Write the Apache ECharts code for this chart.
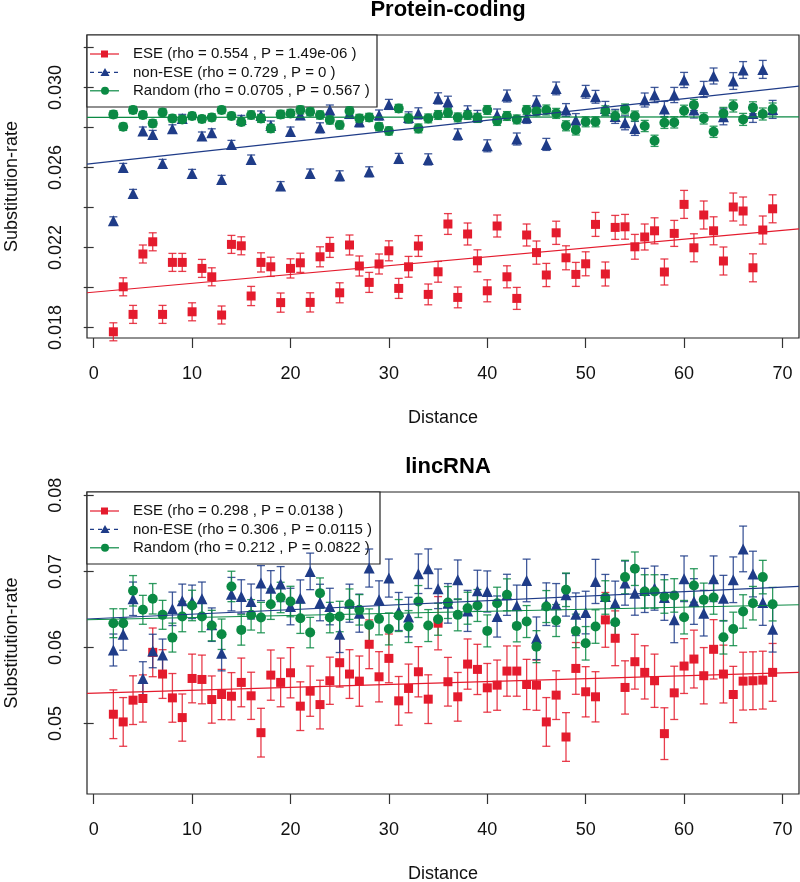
<!DOCTYPE html>
<html>
<head>
<meta charset="utf-8">
<script src="https://cdn.jsdelivr.net/npm/echarts@6/dist/echarts.min.js"></script>
<style>html,body{margin:0;padding:0;background:#fff}#c{width:800px;height:882px}</style>
</head>
<body>
<div id="c"></div>
<script>
// ---------- data ----------
const distance = [2,3,4,5,6,7,8,9,10,11,12,13,14,15,16,17,18,19,20,21,22,23,24,25,26,27,28,29,30,31,32,33,34,35,36,37,38,39,40,41,42,43,44,45,46,47,48,49,50,51,52,53,54,55,56,57,58,59,60,61,62,63,64,65,66,67,68,69];

// Protein-coding
const pcEse = [0.01778,0.02003,0.01865,0.02167,0.02228,0.01865,0.02125,0.02125,0.01878,0.02095,0.02053,0.01862,0.02215,0.02208,0.01957,0.02125,0.02103,0.01924,0.02095,0.02123,0.01925,0.02153,0.02200,0.01973,0.02212,0.02107,0.02025,0.02117,0.02183,0.01995,0.02103,0.02207,0.01965,0.02078,0.02317,0.01950,0.02267,0.02133,0.01983,0.02307,0.02053,0.01945,0.02262,0.02174,0.02062,0.02273,0.02148,0.02065,0.02118,0.02315,0.02067,0.02300,0.02303,0.02203,0.02252,0.02283,0.02077,0.02270,0.02415,0.02198,0.02362,0.02283,0.02132,0.02402,0.02382,0.02098,0.02287,0.02393];
const pcEseErr = [0.00045,0.00045,0.00045,0.00045,0.00045,0.00045,0.00045,0.00045,0.00045,0.00045,0.00045,0.00045,0.00045,0.00045,0.00048,0.00048,0.00048,0.00048,0.00048,0.00048,0.00048,0.0005,0.0005,0.0005,0.0005,0.0005,0.0005,0.0005,0.0005,0.0005,0.00052,0.00052,0.00052,0.00052,0.00052,0.00052,0.00055,0.00055,0.00055,0.00055,0.00055,0.00055,0.00055,0.00058,0.00058,0.00058,0.0006,0.0006,0.0006,0.0006,0.0006,0.0006,0.00062,0.00062,0.00065,0.00065,0.00065,0.00065,0.0007,0.0007,0.0007,0.0007,0.0007,0.0007,0.0007,0.0007,0.0007,0.0007];
const pcNon = [0.02333,0.02600,0.02470,0.02782,0.02765,0.02620,0.02793,0.02845,0.02570,0.02757,0.02773,0.02540,0.02715,0.02840,0.02640,0.02860,0.02810,0.02507,0.02780,0.02862,0.02570,0.02798,0.02887,0.02558,0.02870,0.02828,0.02578,0.02862,0.02915,0.02645,0.02850,0.02870,0.02640,0.02945,0.02928,0.02765,0.02878,0.02855,0.02708,0.02862,0.02957,0.02742,0.02850,0.02928,0.02715,0.02995,0.02887,0.02837,0.02978,0.02953,0.02895,0.02855,0.02823,0.02795,0.02937,0.02962,0.02892,0.02962,0.03037,0.02887,0.02990,0.03057,0.02853,0.03032,0.03087,0.02870,0.03090,0.02890];
const pcNonErr = [0.0002,0.0002,0.0002,0.0002,0.0002,0.0002,0.0002,0.0002,0.0002,0.0002,0.0002,0.0002,0.0002,0.0002,0.00022,0.00022,0.00022,0.00022,0.00022,0.00022,0.00022,0.00025,0.00025,0.00025,0.00025,0.00025,0.00025,0.00025,0.00025,0.00025,0.00028,0.00028,0.00028,0.00028,0.00028,0.00028,0.0003,0.0003,0.0003,0.0003,0.0003,0.0003,0.0003,0.0003,0.0003,0.00032,0.00032,0.00032,0.00032,0.00032,0.00035,0.00035,0.00035,0.00035,0.00035,0.00038,0.00038,0.00038,0.00038,0.0004,0.0004,0.0004,0.0004,0.00042,0.00042,0.00045,0.00045,0.00045];
const pcRnd = [0.02865,0.02803,0.02887,0.02862,0.02820,0.02875,0.02845,0.02840,0.02857,0.02842,0.02850,0.02887,0.02857,0.02827,0.02862,0.02845,0.02795,0.02865,0.02870,0.02887,0.02878,0.02862,0.02837,0.02812,0.02882,0.02845,0.02850,0.02803,0.02782,0.02895,0.02845,0.02795,0.02845,0.02862,0.02873,0.02850,0.02862,0.02848,0.02887,0.02832,0.02857,0.02840,0.02887,0.02880,0.02887,0.02870,0.02808,0.02787,0.02828,0.02828,0.02883,0.02857,0.02892,0.02857,0.02807,0.02733,0.02823,0.02825,0.02883,0.02912,0.02845,0.02778,0.02870,0.02907,0.02840,0.02898,0.02867,0.02892];
const pcRndErr = [0.00018,0.00018,0.00018,0.00018,0.00018,0.00018,0.00018,0.00018,0.00018,0.00018,0.00018,0.00018,0.00018,0.00018,0.0002,0.0002,0.0002,0.0002,0.0002,0.0002,0.0002,0.0002,0.0002,0.0002,0.0002,0.0002,0.0002,0.0002,0.0002,0.0002,0.00022,0.00022,0.00022,0.00022,0.00022,0.00022,0.00022,0.00022,0.00022,0.00022,0.00022,0.00022,0.00022,0.00022,0.00025,0.00025,0.00025,0.00025,0.00025,0.00025,0.00025,0.00025,0.00025,0.00025,0.00028,0.00028,0.00028,0.00028,0.00028,0.00028,0.00028,0.00028,0.0003,0.0003,0.0003,0.0003,0.0003,0.0003];
const pcFitIntercept = [0.01976, 0.02620, 0.02850];
const pcFitSlope = [0.0000442, 0.0000539, 0.0000004];

// lincRNA
const lnEse = [0.05123,0.05022,0.05308,0.05330,0.05936,0.05651,0.05338,0.05079,0.05593,0.05580,0.05316,0.05382,0.05360,0.05541,0.05365,0.04881,0.05637,0.05541,0.05668,0.05229,0.05426,0.05250,0.05563,0.05800,0.05651,0.05558,0.06042,0.05615,0.05857,0.05299,0.05462,0.05681,0.05321,0.06319,0.05550,0.05352,0.05782,0.05712,0.05470,0.05505,0.05690,0.05690,0.05514,0.05505,0.05022,0.05374,0.04824,0.05725,0.05418,0.05352,0.06363,0.06121,0.05475,0.05813,0.05673,0.05563,0.04868,0.05404,0.05756,0.05848,0.05629,0.05976,0.05651,0.05382,0.05558,0.05563,0.05571,0.05673];
const lnEseErr = [0.0032,0.0032,0.0032,0.0031,0.0032,0.0032,0.0032,0.0031,0.0032,0.0032,0.0031,0.0033,0.0031,0.0032,0.0031,0.0032,0.0033,0.0032,0.0033,0.0032,0.0033,0.0032,0.0031,0.0032,0.0032,0.0033,0.0032,0.0033,0.0032,0.0032,0.0032,0.0033,0.0032,0.0035,0.0032,0.0032,0.0033,0.0033,0.0032,0.0033,0.0033,0.0033,0.0033,0.0033,0.0032,0.0032,0.0032,0.0034,0.0033,0.0033,0.0036,0.0036,0.0035,0.0036,0.0035,0.0035,0.0034,0.0035,0.0036,0.0038,0.0037,0.0039,0.0038,0.0037,0.0038,0.0038,0.0038,0.0038];
const lnNon = [0.05967,0.06174,0.06640,0.05593,0.05954,0.05901,0.06508,0.06613,0.06600,0.06640,0.06300,0.05923,0.06701,0.06670,0.06604,0.06846,0.06780,0.06833,0.06538,0.06648,0.07000,0.06591,0.06538,0.06174,0.06582,0.06451,0.07044,0.06626,0.06912,0.06473,0.06400,0.06969,0.07035,0.06771,0.06580,0.06890,0.06481,0.06745,0.06736,0.06407,0.06692,0.06550,0.06881,0.06121,0.06569,0.06560,0.06692,0.06437,0.06459,0.06868,0.06670,0.06582,0.06846,0.06714,0.06750,0.06780,0.06657,0.06363,0.06903,0.06604,0.06451,0.06903,0.06648,0.06890,0.07295,0.06965,0.06591,0.06240];
const lnNonErr = [0.0021,0.0021,0.0022,0.0022,0.0022,0.0021,0.0022,0.0022,0.0022,0.0022,0.0022,0.0023,0.0022,0.0022,0.0023,0.0023,0.0023,0.0023,0.0024,0.0024,0.0024,0.0024,0.0024,0.0024,0.0025,0.0025,0.0025,0.0025,0.0025,0.0025,0.0026,0.0026,0.0026,0.0026,0.0026,0.0026,0.0027,0.0027,0.0027,0.0027,0.0027,0.0027,0.0028,0.0028,0.0028,0.0028,0.0028,0.0028,0.0028,0.0029,0.0029,0.0029,0.0029,0.0029,0.0029,0.0029,0.003,0.003,0.003,0.003,0.003,0.003,0.003,0.003,0.003,0.003,0.003,0.003];
const lnRnd = [0.06319,0.06319,0.06745,0.06495,0.06640,0.06429,0.06130,0.06407,0.06552,0.06407,0.06288,0.06174,0.06802,0.06231,0.06429,0.06393,0.06569,0.06657,0.06604,0.06385,0.06196,0.06714,0.06393,0.06407,0.06569,0.06495,0.06297,0.06376,0.06244,0.06420,0.06275,0.06604,0.06288,0.06371,0.06591,0.06429,0.06516,0.06552,0.06218,0.06582,0.06692,0.06284,0.06341,0.06011,0.06538,0.06354,0.06758,0.06218,0.06055,0.06275,0.06657,0.06332,0.06925,0.07035,0.06736,0.06736,0.06670,0.06684,0.06398,0.06815,0.06626,0.06657,0.06134,0.06244,0.06473,0.06582,0.06925,0.06569];
const lnRndErr = [0.0019,0.0019,0.002,0.0019,0.002,0.0019,0.0019,0.002,0.002,0.002,0.002,0.002,0.002,0.002,0.002,0.002,0.002,0.002,0.002,0.002,0.002,0.002,0.002,0.002,0.002,0.002,0.0021,0.0021,0.0021,0.0021,0.0021,0.0021,0.0021,0.0021,0.0021,0.0021,0.0021,0.0021,0.0021,0.0021,0.0021,0.0021,0.0021,0.0021,0.0021,0.0021,0.0022,0.0022,0.0022,0.0022,0.0022,0.0022,0.0022,0.0022,0.0022,0.0022,0.0022,0.0022,0.0022,0.0022,0.0022,0.0022,0.0022,0.0022,0.0022,0.0022,0.0022,0.0022];
const lnFitIntercept = [0.05400, 0.06379, 0.06367];
const lnFitSlope = [0.0000381, 0.0000592, 0.0000272];

const panelTitles = ['Protein-coding', 'lincRNA'];
const pcLegend = ['ESE (rho = 0.554 , P = 1.49e-06 )', 'non-ESE (rho = 0.729 , P = 0 )', 'Random (rho = 0.0705 , P = 0.567 )'];
const lnLegend = ['ESE (rho = 0.298 , P = 0.0138 )', 'non-ESE (rho = 0.306 , P = 0.0115 )', 'Random (rho = 0.212 , P = 0.0822 )'];
const xTicks = [0,10,20,30,40,50,60,70];
const pcYTicks = [0.018,0.020,0.022,0.024,0.026,0.028,0.030,0.032];
const pcYLabels = [0.018,0.022,0.026,0.030];
const lnYTicks = [0.05,0.06,0.07,0.08];
const lnYLabels = [0.05,0.06,0.07,0.08];

// ---------- styling ----------
const FONT = '"Liberation Sans", Arial, Helvetica, sans-serif';
const RED = '#E41B2D', BLUE = '#1F3C88', GREEN = '#0B8A44';
const colors = [RED, BLUE, GREEN];
const symbols = ['rect', 'triangle', 'circle'];
const symSizes = [9, 11, 10];

const xRange = distance[distance.length-1] - distance[0];
const xMin = distance[0] - 0.04 * xRange, xMax = distance[distance.length-1] + 0.04 * xRange;

const grids = [
  {left: 87, top: 35, width: 712, height: 303},
  {left: 87, top: 492, width: 712, height: 302}
];

function makeX(gi) {
  return {
    gridIndex: gi, type: 'value', min: xMin, max: xMax,
    axisLine: {show: false},
    splitLine: {show: false},
    axisTick: {show: true, length: 10, customValues: xTicks, lineStyle: {color: '#333', width: 1.2}},
    axisLabel: {show: true, customValues: xTicks, margin: 27, fontSize: 18, color: '#111', fontFamily: FONT, formatter: v => String(v)},
    name: 'Distance', nameLocation: 'middle', nameGap: 71,
    nameTextStyle: {fontSize: 18, color: '#111', fontFamily: FONT}
  };
}
function makeY(gi, min, max, ticks, labels, digits) {
  return {
    gridIndex: gi, type: 'value', min: min, max: max,
    axisLine: {show: false},
    splitLine: {show: false},
    axisTick: {show: true, length: 10, customValues: ticks, lineStyle: {color: '#333', width: 1.2}},
    axisLabel: {show: true, customValues: labels, rotate: 90, margin: 22, fontSize: 18, color: '#111', fontFamily: FONT, formatter: v => v.toFixed(digits)},
    name: 'Substitution-rate', nameLocation: 'middle', nameGap: 66,
    nameTextStyle: {fontSize: 18, color: '#111', fontFamily: FONT}
  };
}

function errSeries(gi, vals, errs, color) {
  return {
    type: 'custom', xAxisIndex: gi, yAxisIndex: gi, silent: true,
    data: distance.map((d, i) => [d, vals[i] - errs[i], vals[i] + errs[i]]),
    encode: {x: 0, y: [1, 2]},
    renderItem: function (params, api) {
      const lo = api.coord([api.value(0), api.value(1)]);
      const hi = api.coord([api.value(0), api.value(2)]);
      const cw = 4;
      const st = {stroke: color, lineWidth: 1.3, opacity: 0.85};
      return {type: 'group', children: [
        {type: 'line', shape: {x1: lo[0], y1: lo[1], x2: hi[0], y2: hi[1]}, style: st},
        {type: 'line', shape: {x1: lo[0]-cw, y1: lo[1], x2: lo[0]+cw, y2: lo[1]}, style: st},
        {type: 'line', shape: {x1: hi[0]-cw, y1: hi[1], x2: hi[0]+cw, y2: hi[1]}, style: st}
      ]};
    }
  };
}
function ptSeries(gi, vals, k) {
  return {
    type: 'scatter', xAxisIndex: gi, yAxisIndex: gi, silent: true,
    symbol: symbols[k], symbolSize: symSizes[k],
    itemStyle: {color: colors[k], opacity: 1},
    data: distance.map((d, i) => [d, vals[i]])
  };
}
function fitSeries(gi, a, b, k) {
  return {
    type: 'line', xAxisIndex: gi, yAxisIndex: gi, silent: true, symbol: 'none',
    lineStyle: {color: colors[k], width: 1.1},
    data: [[xMin, a + b * xMin], [xMax, a + b * xMax]]
  };
}

const series = [];
[[pcEse, pcEseErr], [pcNon, pcNonErr], [pcRnd, pcRndErr]].forEach((p, k) => {
  series.push(errSeries(0, p[0], p[1], colors[k]));
  series.push(ptSeries(0, p[0], k));
});
[0,1,2].forEach(k => series.push(fitSeries(0, pcFitIntercept[k], pcFitSlope[k], k)));
[[lnEse, lnEseErr], [lnNon, lnNonErr], [lnRnd, lnRndErr]].forEach((p, k) => {
  series.push(errSeries(1, p[0], p[1], colors[k]));
  series.push(ptSeries(1, p[0], k));
});
[0,1,2].forEach(k => series.push(fitSeries(1, lnFitIntercept[k], lnFitSlope[k], k)));

// legend boxes drawn with graphics
function legendGroup(g, labels, boxW) {
  const rowH = 18.4, firstRow = 19;
  const children = [{type: 'rect', shape: {x: 0, y: 0, width: boxW, height: 72}, style: {fill: '#fff', stroke: '#222', lineWidth: 1.2}}];
  labels.forEach((t, k) => {
    const y = firstRow + k * rowH;
    children.push({type: 'line', shape: {x1: 3, y1: y, x2: 32, y2: y},
      style: {stroke: colors[k], lineWidth: 1.2, lineDash: k === 1 ? [4, 4] : null}});
    if (k === 0) children.push({type: 'rect', shape: {x: 14, y: y-3.5, width: 7, height: 7}, style: {fill: colors[k]}});
    if (k === 1) children.push({type: 'polygon', shape: {points: [[18, y-4.5], [13.5, y+3.5], [22.5, y+3.5]]}, style: {fill: colors[k]}});
    if (k === 2) children.push({type: 'circle', shape: {cx: 18, cy: y, r: 4}, style: {fill: colors[k]}});
    children.push({type: 'text', x: 46, y: y, style: {text: t, fontSize: 15, fontFamily: FONT, fill: '#111', verticalAlign: 'middle', align: 'left'}});
  });
  return {type: 'group', x: grids[g].left, y: grids[g].top, z: 100, children: children};
}

const chart = echarts.init(document.getElementById('c'), null, {renderer: 'canvas'});
chart.setOption({
  animation: false,
  backgroundColor: '#fff',
  title: [
    {text: panelTitles[0], left: 443, textAlign: 'center', top: -6, textStyle: {fontSize: 22, fontWeight: 'bold', color: '#000', fontFamily: FONT}},
    {text: panelTitles[1], left: 443, textAlign: 'center', top: 451, textStyle: {fontSize: 22, fontWeight: 'bold', color: '#000', fontFamily: FONT}}
  ],
  grid: grids.map(g => Object.assign({show: true, borderColor: '#222', borderWidth: 1.2, backgroundColor: 'transparent', containLabel: false, outerBoundsMode: 'none'}, g)),
  xAxis: [makeX(0), makeX(1)],
  yAxis: [
    makeY(0, 0.01747, 0.03262, pcYTicks, pcYLabels, 3),
    makeY(1, 0.04075, 0.08043, lnYTicks, lnYLabels, 2)
  ],
  series: series,
  graphic: [legendGroup(0, pcLegend, 290), legendGroup(1, lnLegend, 293)]
});
</script>
</body>
</html>
